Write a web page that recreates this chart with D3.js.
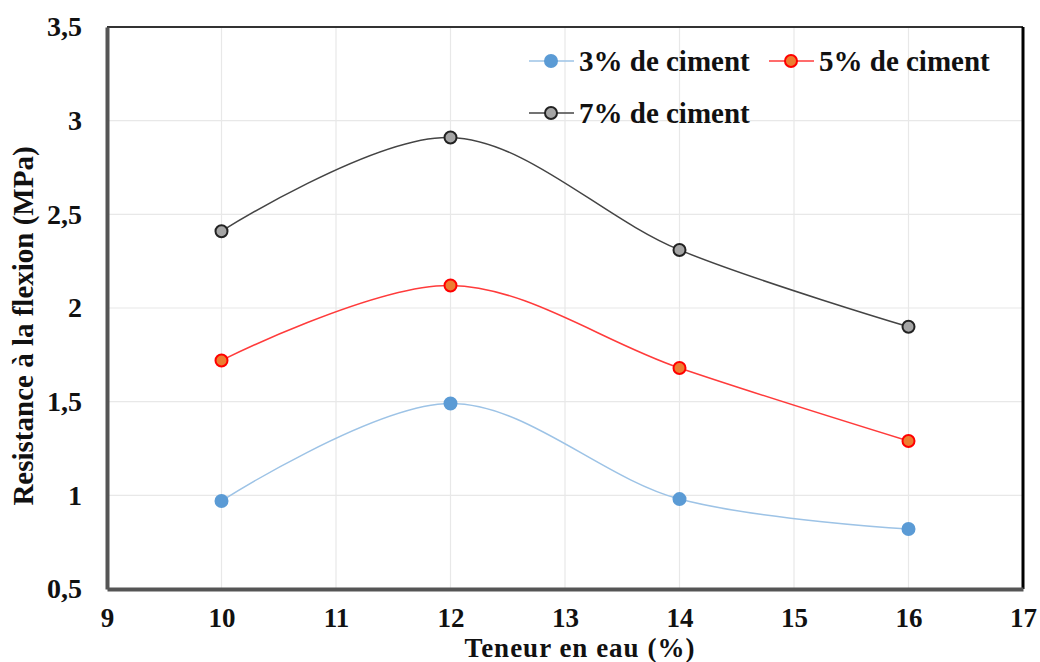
<!DOCTYPE html>
<html><head><meta charset="utf-8">
<script src="https://cdn.jsdelivr.net/npm/d3@7"></script>
<style>body{margin:0;background:#fff}svg{display:block}</style>
</head><body>
<svg id="c" width="1040" height="662"></svg>
<script>
const xValues = [10, 12, 14, 16];
const cement3 = [0.97, 1.49, 0.98, 0.82];
const cement5 = [1.72, 2.12, 1.68, 1.29];
const cement7 = [2.41, 2.91, 2.31, 1.90];
const seriesNames = ["3% de ciment", "5% de ciment", "7% de ciment"];
const xTicks = [9, 10, 11, 12, 13, 14, 15, 16, 17];
const yTicks = [0.5, 1, 1.5, 2, 2.5, 3, 3.5];
const xTitle = "Teneur en eau (%)";
const yTitle = "Resistance à la flexion (MPa)";

const svg = d3.select("#c");
const L = 107, R = 1023, T = 27, B = 589;
const x = d3.scaleLinear().domain([9, 17]).range([L, R]);
const y = d3.scaleLinear().domain([0.5, 3.5]).range([B, T]);
const font = "'Liberation Serif','Times New Roman',serif";

// grid
svg.append("g").selectAll("line").data(xTicks).join("line")
  .attr("x1", d => x(d)).attr("x2", d => x(d)).attr("y1", T).attr("y2", B)
  .attr("stroke", "#e8e8e8").attr("stroke-width", 1.2);
svg.append("g").selectAll("line").data(yTicks).join("line")
  .attr("x1", L).attr("x2", R).attr("y1", d => y(d)).attr("y2", d => y(d))
  .attr("stroke", "#e8e8e8").attr("stroke-width", 1.2);

// frame
svg.append("line").attr("x1", L).attr("x2", R).attr("y1", T).attr("y2", T).attr("stroke", "#333").attr("stroke-width", 2);
svg.append("line").attr("x1", R).attr("x2", R).attr("y1", T).attr("y2", B).attr("stroke", "#000").attr("stroke-width", 3);

// axes
const xAxis = svg.append("g").attr("transform", `translate(0,${B})`)
  .call(d3.axisBottom(x).tickValues(xTicks).tickSize(0).tickFormat(d3.format("d")));
xAxis.select(".domain").attr("stroke", "#555").attr("stroke-width", 4);
xAxis.selectAll("text").attr("y", 38).attr("dy", 0)
  .attr("font-family", font).attr("font-weight", "bold").attr("font-size", 27).attr("fill", "#111");

const yAxis = svg.append("g").attr("transform", `translate(${L},0)`)
  .call(d3.axisLeft(y).tickValues(yTicks).tickSize(0).tickPadding(25).tickFormat(d => String(d).replace(".", ",")));
yAxis.select(".domain").attr("stroke", "#555").attr("stroke-width", 4);
yAxis.selectAll("text").attr("font-family", font).attr("font-weight", "bold").attr("font-size", 28).attr("fill", "#111");

// titles
svg.append("text").attr("x", 580).attr("y", 657).attr("text-anchor", "middle")
  .attr("font-family", font).attr("font-weight", "bold").attr("font-size", 27)
  .attr("letter-spacing", 1).attr("fill", "#111").text(xTitle);
svg.append("text").attr("transform", "translate(33,326) rotate(-90)").attr("text-anchor", "middle")
  .attr("font-family", font).attr("font-weight", "bold").attr("font-size", 29).attr("fill", "#111").text(yTitle);

const styles = [
  {line: "#9DC3E6", fill: "#5B9BD5", stroke: "#5B9BD5", w: 1.5},
  {line: "#FF3B3B", fill: "#ED7D31", stroke: "#FF0000", w: 1.5},
  {line: "#444", fill: "#A5A5A5", stroke: "#222", w: 1.5}
];
const series = [cement3, cement5, cement7];
const lineGen = d3.line().x(d => x(d[0])).y(d => y(d[1])).curve(d3.curveCatmullRom.alpha(0.5));

series.forEach((vals, i) => {
  const pts = xValues.map((xv, j) => [xv, vals[j]]);
  const s = styles[i];
  svg.append("path").attr("d", lineGen(pts)).attr("fill", "none")
    .attr("stroke", s.line).attr("stroke-width", s.w);
  svg.append("g").selectAll("circle").data(pts).join("circle")
    .attr("cx", d => x(d[0])).attr("cy", d => y(d[1])).attr("r", 6)
    .attr("fill", s.fill).attr("stroke", s.stroke).attr("stroke-width", 2);
});

// legend
const legendPos = [[529, 61], [769, 61], [529, 113]];
seriesNames.forEach((name, i) => {
  const [lx, ly] = legendPos[i];
  const s = styles[i];
  const g = svg.append("g");
  g.append("line").attr("x1", lx).attr("x2", lx + 45).attr("y1", ly).attr("y2", ly)
    .attr("stroke", s.line).attr("stroke-width", 1.5);
  g.append("circle").attr("cx", lx + 22).attr("cy", ly).attr("r", 6)
    .attr("fill", s.fill).attr("stroke", s.stroke).attr("stroke-width", 2);
  g.append("text").attr("x", lx + 50).attr("y", ly + 10)
    .attr("font-family", font).attr("font-weight", "bold").attr("font-size", 29).attr("fill", "#111").text(name);
});
</script>
</body></html>
